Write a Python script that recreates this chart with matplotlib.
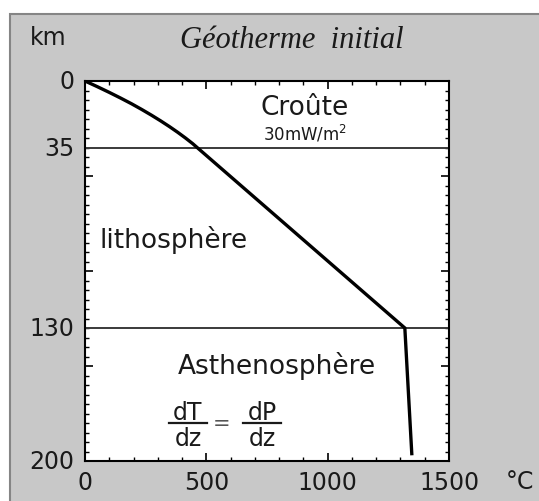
import matplotlib
matplotlib.use("Agg")
import matplotlib.pyplot as plt
from matplotlib.patches import Rectangle
from matplotlib.lines import Line2D
from matplotlib.ticker import MultipleLocator

# ---- data ----
depth_km = [0, 3, 6, 9, 12, 15, 18, 21, 24, 27, 30, 33, 35, 130, 197]
temp_c = [0, 51, 100, 147, 192, 234, 274, 312, 348, 382, 414, 444, 462, 1318, 1347]
boundaries_km = [35, 130]
ytick_vals = [0, 35, 130, 200]
ytick_labels = ["0", "35", "130", "200"]
xtick_vals = [0, 500, 1000, 1500]
xtick_labels = ["0", "500", "1000", "1500"]

W, H = 539, 502
fig = plt.figure(figsize=(W / 100, H / 100), dpi=100)
fig.patch.set_facecolor("white")

def fx(px):
    return px / W

def fy(py):
    return 1 - py / H

# gray panel
panel = Rectangle((fx(10), -0.01), 1 - fx(10) + 0.02, fy(15) + 0.01, transform=fig.transFigure,
                  facecolor="#c8c8c8", edgecolor="#858585", linewidth=1.5, zorder=-5)
fig.patches.append(panel)

L, R, T, B = 85, 449, 82, 462
ax = fig.add_axes([fx(L), fy(B), fx(R - L), (B - T) / H])
ax.set_zorder(2)
ax.set_facecolor("white")
ax.set_xlim(0, 1500)
ax.set_ylim(200, 0)

for zb in boundaries_km:
    ax.axhline(zb, color="#3a3a3a", lw=1.4, zorder=2)
ax.plot(temp_c, depth_km, color="black", lw=2.4, solid_capstyle="butt",
        solid_joinstyle="miter", zorder=3)

ax.xaxis.set_major_locator(MultipleLocator(500))
ax.xaxis.set_minor_locator(MultipleLocator(100))
ax.yaxis.set_major_locator(MultipleLocator(50))
ax.yaxis.set_minor_locator(MultipleLocator(5))
ax.tick_params(which="both", direction="in", top=True, right=True,
               labelbottom=False, labelleft=False, color="black")
ax.tick_params(which="major", length=6, width=1.2)
ax.tick_params(which="minor", length=3, width=1.0)
for s in ax.spines.values():
    s.set_linewidth(1.5)
    s.set_color("black")

font = "DejaVu Sans"
# y tick labels
for v, lab in zip(ytick_vals, ytick_labels):
    ax.text(-0.03, v, lab, transform=ax.get_yaxis_transform(), ha="right",
            va="center", fontsize=17, family=font, color="#1a1a1a")
# x tick labels
for v, lab in zip(xtick_vals, xtick_labels):
    ax.text(v, -0.025, lab, transform=ax.get_xaxis_transform(), ha="center",
            va="top", fontsize=17, family=font, color="#1a1a1a")

fig.text(fx(520), fy(482), "°C", ha="center", va="center", fontsize=17,
         family=font, color="#1a1a1a", zorder=3)
fig.text(fx(48), fy(38), "km", ha="center", va="center", fontsize=17,
         family=font, color="#1a1a1a", zorder=3)
fig.text(fx(292), fy(40), "Géotherme  initial", ha="center", va="center",
         fontsize=22, family="Liberation Serif", style="italic", color="#1a1a1a", zorder=3)

fig.text(fx(305), fy(108), "Croûte", ha="center", va="center", fontsize=19,
         family=font, color="#1a1a1a", zorder=3)
fig.text(fx(305), fy(134), "30mW/m$^2$", ha="center", va="center", fontsize=12,
         family=font, color="#1a1a1a", zorder=3)
fig.text(fx(100), fy(240), "lithosphère", ha="left", va="center", fontsize=19,
         family=font, color="#1a1a1a", zorder=3)
fig.text(fx(178), fy(366), "Asthenosphère", ha="left", va="center", fontsize=19,
         family=font, color="#1a1a1a", zorder=3)

# dT/dz = dP/dz
for cx, num in [(188, "dT"), (262, "dP")]:
    fig.text(fx(cx), fy(420), num, ha="center", va="baseline", fontsize=17,
             family=font, color="#1a1a1a", zorder=3)
    fig.text(fx(cx), fy(446), "dz", ha="center", va="baseline", fontsize=17,
             family=font, color="#1a1a1a", zorder=3)
    fig.add_artist(Line2D([fx(cx - 19), fx(cx + 19)], [fy(424), fy(424)],
                          transform=fig.transFigure, color="#1a1a1a", lw=1.6, zorder=3))
fig.text(fx(222), fy(424), "=", ha="center", va="center", fontsize=15,
         family=font, color="#555555", zorder=3)

fig.savefig("out.png", dpi=100)
